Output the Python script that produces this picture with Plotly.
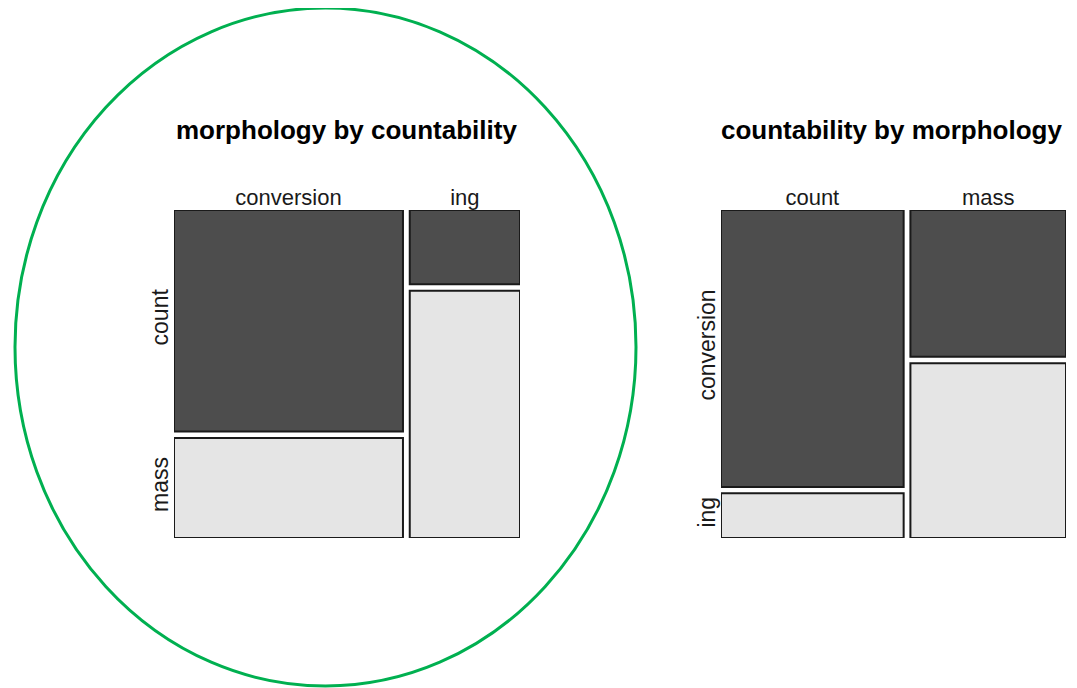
import plotly.graph_objs as go

# contingency table (morphology x countability)
morphology = ["conversion", "ing"]
countability = ["count", "mass"]
conversion_counts = [93, 42]   # count, mass
ing_counts = [15, 50]          # count, mass

DARK = "#4d4d4d"
LIGHT = "#e5e5e5"
GAP = 0.02

# page body has an 8px margin, so size the figure to fit the window
W, H, OFF = 1061, 680, 8


def px(x):
    return (x - OFF) / W


def py(y):
    return 1 - (y - OFF) / H


def mosaic(col_levels, row_levels, table):
    # table[i][j]: column level i, row level j
    totals = [sum(r) for r in table]
    grand = sum(totals)
    xs, ws, bases, hs, cols = [], [], [], [], []
    x0 = 0
    for i, row in enumerate(table):
        w = totals[i] / grand
        top = 1 + GAP * (len(row) - 1)
        for j, v in enumerate(row):
            h = v / totals[i]
            xs.append(x0 + w / 2)
            ws.append(w)
            bases.append(top - h)
            hs.append(h)
            cols.append(DARK if j == 0 else LIGHT)
            top = top - h - GAP
        x0 += w + GAP
    # tick positions: column centres, row centres of first column
    col_ticks = [xs[i * len(row_levels)] for i in range(len(col_levels))]
    row_ticks = [bases[j] + hs[j] / 2 for j in range(len(row_levels))]
    return xs, ws, bases, hs, cols, col_ticks, row_ticks


left_table = [conversion_counts, ing_counts]
right_table = [[conversion_counts[k], ing_counts[k]] for k in range(len(countability))]

fig = go.Figure()
axis_font = dict(family="Liberation Sans, Arial", size=22, color="#1a1a1a")
panels = [
    ("", morphology, countability, left_table, [px(174), px(520)], px(346),
     "morphology by countability"),
    ("2", countability, morphology, right_table, [px(721), px(1066)], px(891),
     "countability by morphology"),
]
ydom = [py(538), py(210)]

for suffix, cl, rl, tab, xdom, tx, title in panels:
    xs, ws, bases, hs, cols, cticks, rticks = mosaic(cl, rl, tab)
    fig.add_trace(go.Bar(x=xs, y=hs, base=bases, width=ws,
                         marker=dict(color=cols, line=dict(color="#1a1a1a", width=2)),
                         xaxis="x" + suffix, yaxis="y" + suffix,
                         showlegend=False, hoverinfo="skip"))
    fig.layout["xaxis" + suffix] = dict(domain=xdom, range=[0, 1 + GAP * (len(cl) - 1)],
                                        anchor="y" + suffix, side="top",
                                        tickvals=cticks, ticktext=cl, ticks="",
                                        showgrid=False, zeroline=False, showline=False,
                                        tickfont=axis_font, fixedrange=True)
    fig.layout["yaxis" + suffix] = dict(domain=ydom, range=[0, 1 + GAP * (len(rl) - 1)],
                                        anchor="x" + suffix,
                                        tickvals=rticks, ticktext=rl, ticks="", tickangle=-90,
                                        showgrid=False, zeroline=False, showline=False,
                                        tickfont=dict(axis_font, size=23), fixedrange=True)
    fig.add_annotation(text="<b>" + title + "</b>", xref="paper", yref="paper",
                       x=tx, y=py(130), xanchor="center", yanchor="middle",
                       showarrow=False,
                       font=dict(family="Liberation Sans, Arial", size=26, color="#000000"))

# green ellipse highlighting the left panel
fig.add_shape(type="circle", xref="paper", yref="paper",
              x0=px(15), x1=px(636), y0=py(686), y1=py(8),
              line=dict(color="#00b050", width=3))

fig.update_layout(width=W, height=H, barmode="overlay",
                  margin=dict(l=0, r=0, t=0, b=0),
                  plot_bgcolor="white", paper_bgcolor="white")

fig.write_html("out.html")
